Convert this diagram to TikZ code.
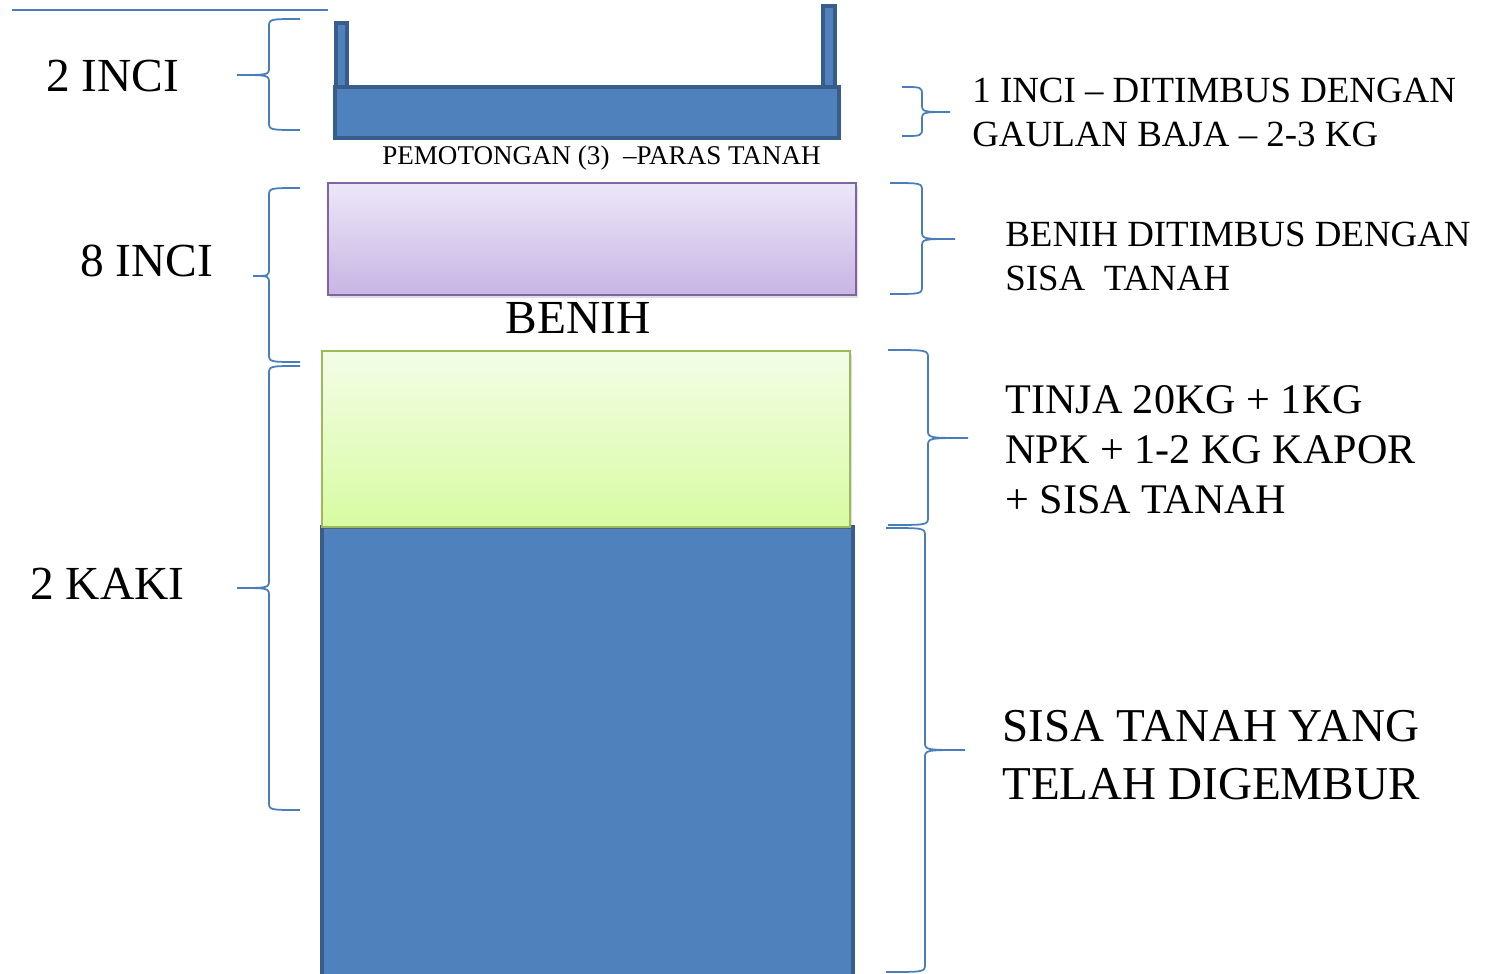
\documentclass[tikz,border=0pt]{standalone}
\usepackage{fontspec}
\setmainfont{Liberation Serif}
\usetikzlibrary{shadows}
\definecolor{soil}{HTML}{4F81BD}
\definecolor{soilline}{HTML}{385D8A}
\definecolor{seedtop}{HTML}{ECE7F7}
\definecolor{seedbot}{HTML}{C8B5E4}
\definecolor{seedline}{HTML}{8064A2}
\definecolor{mixtop}{HTML}{F3FDE7}
\definecolor{mixbot}{HTML}{D8FBA2}
\definecolor{mixline}{HTML}{9BBB59}
\definecolor{curlcol}{HTML}{4A7EBB}

% open x, spine x, tip x, top y, middle y, bottom y
\newcommand{\curlybrace}[6]{%
  \draw[curl] (#1,#4) .. controls (#2,#4) .. (#2,#4+8) -- (#2,#5-8)
    .. controls (#2,#5) .. (#3,#5) .. controls (#2,#5) .. (#2,#5+8)
    -- (#2,#6-8) .. controls (#2,#6) .. (#1,#6);}

\begin{document}
\begin{tikzpicture}[
  x=0.02cm, y=-0.02cm,
  curl/.style={draw=curlcol,line width=1pt},
  soilbox/.style={draw=soilline,fill=soil,line width=1.8pt},
  seedbox/.style={draw=seedline,top color=seedtop,bottom color=seedbot,line width=0.9pt,
                  drop shadow={opacity=0.25,shadow xshift=1pt,shadow yshift=-1.5pt}},
  mixbox/.style={draw=mixline,top color=mixtop,bottom color=mixbot,line width=0.9pt,
                 drop shadow={opacity=0.25,shadow xshift=1pt,shadow yshift=-1.5pt}},
  size/.style={inner sep=0pt,anchor=base west,font=\fontsize{27}{32}\selectfont},
  note/.style={inner sep=0pt,anchor=base west,align=left,font=\fontsize{21}{25}\selectfont},
  mixnote/.style={note,font=\fontsize{24}{28.4}\selectfont},
  soilnote/.style={note,font=\fontsize{26.8}{33}\selectfont}
]
\useasboundingbox (0,0) rectangle (1492,974);

% ground line
\draw[curl] (12,10) -- (328,10);

% tray
\draw[soilbox] (336,23) rectangle (347,87);
\draw[soilbox] (823,6) rectangle (835,87);
\draw[soilbox] (335,87) rectangle (839,138);
\node[inner sep=0pt,anchor=base west,font=\fontsize{15.4}{18}\selectfont] (cut) at (382,164)
  {PEMOTONGAN (3)~~–PARAS TANAH};

% layers
\draw[soilbox] (322,527) rectangle (853,990);
\draw[mixbox] (322,351) rectangle (850,527);
\draw[seedbox] (328,183) rectangle (856,295);
\node[inner sep=0pt,anchor=base,font=\fontsize{27}{32}\selectfont] (seed) at (578,333) {BENIH};

% left side
\node[size] (twoinch) at (46,91) {2 INCI};
\node[size] (eightinch) at (80,276) {8 INCI};
\node[size] (twofeet) at (30,599) {2 KAKI};
\curlybrace{300}{269}{237}{19}{75}{130}
\curlybrace{300}{269}{253}{188}{276}{362}
\curlybrace{300}{269}{237}{366}{588}{810}

% right side
\curlybrace{902}{922}{950}{87}{112}{136}
\curlybrace{890}{922}{955}{183}{239}{294}
\curlybrace{888}{928}{968}{350}{438}{525}
\curlybrace{886}{925}{965}{528}{750}{972}
\node[note] (topnote) at (972,146) {1 INCI – DITIMBUS DENGAN\\GAULAN BAJA – 2-3 KG};
\node[note] (seednote) at (1005,290) {BENIH DITIMBUS DENGAN\\SISA~~TANAH};
\node[mixnote] (mixnote) at (1005,513) {TINJA 20KG + 1KG\\NPK + 1-2 KG KAPOR\\+ SISA TANAH};
\node[soilnote] (soilnote) at (1002,799) {SISA TANAH YANG\\TELAH DIGEMBUR};

\end{tikzpicture}
\end{document}
